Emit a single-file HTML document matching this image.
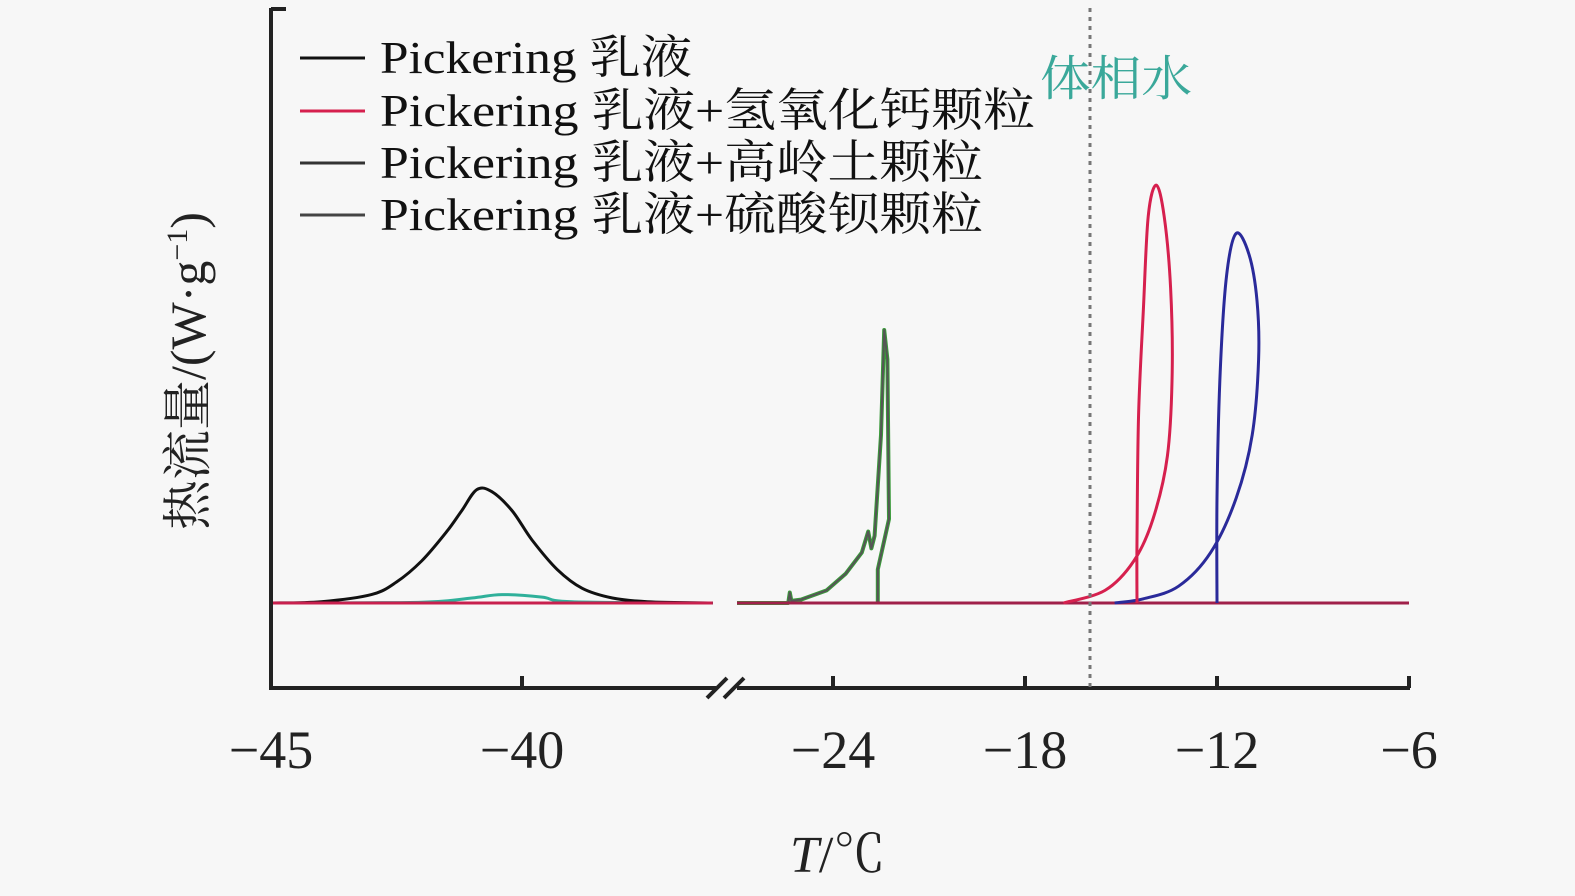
<!DOCTYPE html>
<html><head><meta charset="utf-8"><style>
body{margin:0;background:#f7f7f7}
svg{display:block}
text{font-family:"Liberation Serif","Noto Serif CJK SC",serif}
</style></head><body>
<svg id="chart" width="1575" height="896" viewBox="0 0 1575 896">
<rect width="1575" height="896" fill="#f7f7f7"/>
<g id="marks"></g>
<line x1="271" y1="8" x2="271" y2="689" stroke="#222" stroke-width="4"/>
<line x1="271" y1="9" x2="286" y2="9" stroke="#222" stroke-width="4"/>
<line x1="269" y1="688" x2="716" y2="688" stroke="#222" stroke-width="4"/>
<line x1="737" y1="688" x2="1410" y2="688" stroke="#222" stroke-width="4"/>
<g stroke="#222" stroke-width="4">
<line x1="707" y1="698" x2="727" y2="678"/><line x1="724" y1="698" x2="744" y2="678"/></g>
<g id="ticks"></g>
<line x1="1090" y1="8" x2="1090" y2="688" stroke="#777" stroke-width="3" stroke-dasharray="4,5"/>
<text x="1040" y="95" font-size="48" textLength="152" lengthAdjust="spacingAndGlyphs" fill="#3aa89a">体相水</text>
<text x="790" y="872" font-size="52" fill="#222"><tspan font-style="italic">T</tspan>/℃</text>
<text transform="translate(205,530) rotate(-90)" font-size="50" fill="#222">热流量/(W·g<tspan font-size="30" dy="-18">−1</tspan><tspan dy="18">)</tspan></text>
<g font-size="46" fill="#111">
<line x1="300" y1="58" x2="365" y2="58" stroke="#111" stroke-width="3"/>
<text x="380" y="73" textLength="312" lengthAdjust="spacingAndGlyphs">Pickering 乳液</text>
<line x1="300" y1="111" x2="365" y2="111" stroke="#d6204e" stroke-width="3"/>
<text x="380" y="126" textLength="655" lengthAdjust="spacingAndGlyphs">Pickering 乳液+氢氧化钙颗粒</text>
<line x1="300" y1="163" x2="365" y2="163" stroke="#333" stroke-width="3"/>
<text x="380" y="178" textLength="603" lengthAdjust="spacingAndGlyphs">Pickering 乳液+高岭土颗粒</text>
<line x1="300" y1="215" x2="365" y2="215" stroke="#444" stroke-width="3"/>
<text x="380" y="230" textLength="603" lengthAdjust="spacingAndGlyphs">Pickering 乳液+硫酸钡颗粒</text>
</g>
</svg>
<script>
const tickValuesLeft=[-45,-40];
const tickValuesRight=[-24,-18,-12,-6];
// series: temperature (°C) and heat flow (relative units)
const emuT=[-45,-44,-43,-42.5,-42,-41.5,-41.2,-40.9,-40.6,-40.2,-39.8,-39.3,-38.8,-38.2,-37.5,-36.2];
const emuV=[0,0.3,2,5,10,17,22,27,26.5,22,15,8,3.5,1.2,0.3,0];
const caT=[-45,-36.2];const caV=[0,0];
const greenT=[-45,-42,-41,-40.4,-39.6,-39,-36.2];
const greenV=[0,0.2,1.2,2,1.4,0.3,0];
const kaoT=[-27,-25.4,-25.35,-25.3,-25,-24.2,-23.6,-23.1,-22.9,-22.85,-22.8,-22.7,-22.5,-22.4,-22.3,-22.25,-22.6,-22.6];
const kaoV=[0,0,2.5,0.5,0.8,3,7,12,17,15,13,16,40,65,58,20,8,0];
const redT=[-27,-6];const redV=[0,0];
const caLoopT=[-16.8,-15.5,-14.6,-14.0,-13.55,-13.4,-13.45,-13.65,-13.9,-14.15,-14.3,-14.45,-14.5,-14.5];
const caLoopV=[0,3,10,20,35,55,75,92,99.5,92,70,45,15,0];
const blLoopT=[-15.2,-14.3,-13.2,-12.2,-11.4,-10.9,-10.7,-10.75,-11.0,-11.4,-11.7,-11.9,-12.0,-12.0];
const blLoopV=[0,1,4,12,25,40,58,72,83,88,78,55,25,0];
function xs(t){return t<=-35?271+(t+45)*50.2:833+(t+24)*32;}
function ys(v){return 603-v*4.2;}
const NS='http://www.w3.org/2000/svg';
const g=document.getElementById('marks');
function line(T,V,color,w,name,smooth){
  const p=document.createElementNS(NS,'path');
  const P=T.map((t,i)=>[xs(t),ys(V[i])]);
  let d='M'+P[0][0].toFixed(1)+','+P[0][1].toFixed(1);
  for(let i=0;i<P.length-1;i++){
    if(!smooth){d+='L'+P[i+1][0].toFixed(1)+','+P[i+1][1].toFixed(1);continue;}
    const p0=P[Math.max(0,i-1)],p1=P[i],p2=P[i+1],p3=P[Math.min(P.length-1,i+2)];
    const c1=[p1[0]+(p2[0]-p0[0])/6,p1[1]+(p2[1]-p0[1])/6];
    const c2=[p2[0]-(p3[0]-p1[0])/6,p2[1]-(p3[1]-p1[1])/6];
    d+='C'+c1[0].toFixed(1)+','+c1[1].toFixed(1)+' '+c2[0].toFixed(1)+','+c2[1].toFixed(1)+' '+p2[0].toFixed(1)+','+p2[1].toFixed(1);
  }
  p.setAttribute('d',d);p.setAttribute('fill','none');p.setAttribute('stroke',color);
  p.setAttribute('stroke-width',w);p.setAttribute('stroke-linejoin','round');
  
  
  g.appendChild(p);
}
line(greenT,greenV,'#2fb09a',3,'series-baso4-left',true);
line(emuT,emuV,'#111',3,'series-emulsion',true);
line(caT,caV,'#c8204e',3,'series-caoh2-left',false);
line(kaoT,kaoV,'#3a9a3a',4,'series-kaolin-peak',false);
line(kaoT,kaoV,'#555',2,'series-baso4-peak',false);
line(redT,redV,'#a0204a',3,'series-baseline-right',false);
line(blLoopT,blLoopV,'#2a2a9a',3,'series-kaolin-loop',true);
line(caLoopT,caLoopV,'#d6204e',3,'series-caoh2-loop',true);
const tk=document.getElementById('ticks');
tickValuesLeft.concat(tickValuesRight).forEach(function(v){
  const x=xs(v);
  if(v!==-45){
    const l=document.createElementNS(NS,'line');
    l.setAttribute('x1',x);l.setAttribute('x2',x);l.setAttribute('y1',676);l.setAttribute('y2',688);
    l.setAttribute('stroke','#222');l.setAttribute('stroke-width',4);
    
    
    tk.appendChild(l);
  }
  const t=document.createElementNS(NS,'text');
  t.setAttribute('x',x);t.setAttribute('y',768);t.setAttribute('text-anchor','middle');
  t.setAttribute('font-size',54);t.setAttribute('fill','#222');
  t.textContent='\u2212'+Math.abs(v);
  
  
  tk.appendChild(t);
});
</script>
</body></html>
